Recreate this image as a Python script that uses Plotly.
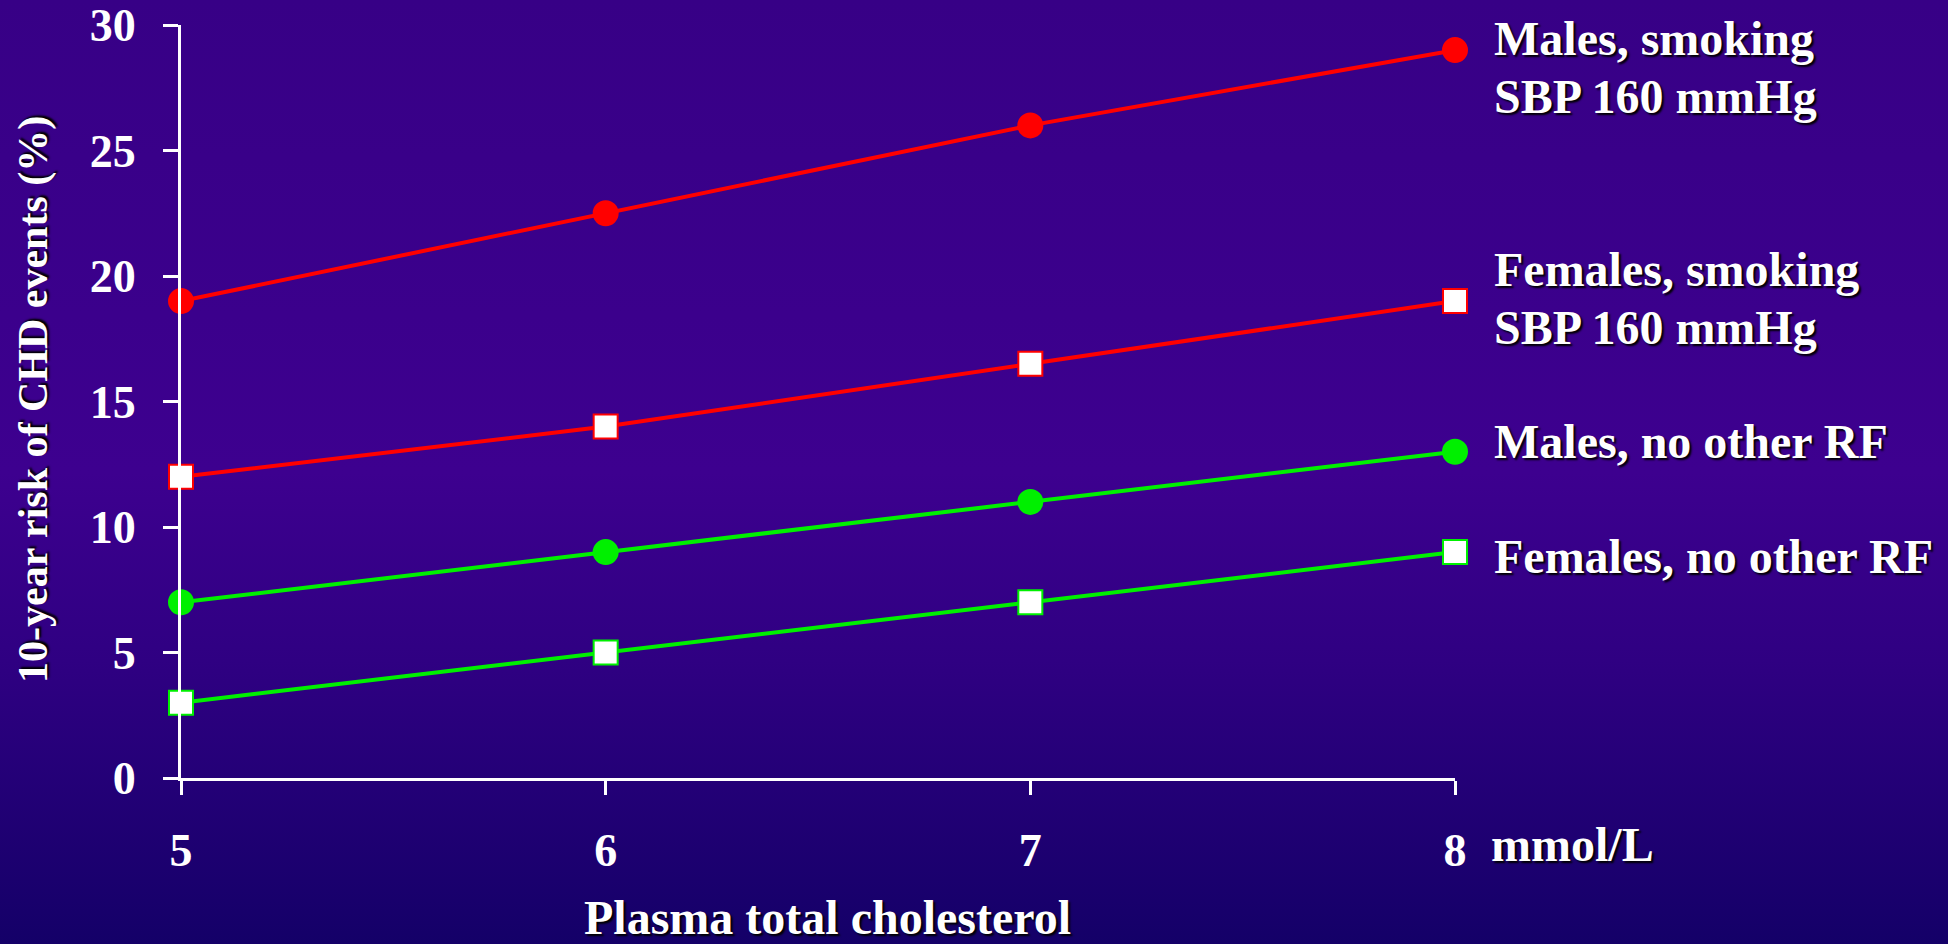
import base64
import plotly.graph_objects as go

# ---- data ----
cholesterol = [5, 6, 7, 8]
males_smoking = [19, 22.5, 26, 29]
females_smoking = [12, 14, 16.5, 19]
males_no_rf = [7, 9, 11, 13]
females_no_rf = [3, 5, 7, 9]
y_ticks = [0, 5, 10, 15, 20, 25, 30]
x_ticks = [5, 6, 7, 8]

W, H = 1948, 944
ML, MR, MT, MB = 181, 493, 25, 166
PW, PH = W - ML - MR, H - MT - MB

FONT = "Liberation Serif, Times New Roman, serif"
SHADOW = "2px 2px 2px #000000"
RED = "#ff0000"
GREEN = "#00f000"


def px_x(px):
    return (px - ML) / PW


def px_y(py):
    return 1 - (py - MT) / PH


fig = go.Figure()

series = [
    (males_smoking, RED, "circle", RED),
    (females_smoking, RED, "square", "#ffffff"),
    (males_no_rf, GREEN, "circle", GREEN),
    (females_no_rf, GREEN, "square", "#ffffff"),
]
for vals, col, sym, fill in series:
    fig.add_trace(go.Scatter(
        x=cholesterol, y=vals, mode="lines+markers",
        line=dict(color=col, width=4),
        marker=dict(symbol=sym, size=24, color=fill,
                    line=dict(color=col, width=2)),
        cliponaxis=False, showlegend=False, hoverinfo="skip",
    ))

# gradient background
svg = (
    '<svg xmlns="http://www.w3.org/2000/svg" width="100" height="100" preserveAspectRatio="none">'
    '<defs><linearGradient id="g" x1="0" y1="0" x2="0" y2="1">'
    '<stop offset="0" stop-color="#370086"/>'
    '<stop offset="0.5" stop-color="#3d008f"/>'
    '<stop offset="0.7" stop-color="#2f0082"/>'
    '<stop offset="1" stop-color="#140068"/>'
    '</linearGradient></defs>'
    '<rect width="100" height="100" fill="url(#g)"/></svg>'
)
uri = "data:image/svg+xml;base64," + base64.b64encode(svg.encode()).decode()
fig.add_layout_image(dict(
    source=uri, xref="paper", yref="paper",
    x=px_x(0), y=px_y(0), sizex=W / PW, sizey=H / PH,
    xanchor="left", yanchor="top", sizing="stretch", layer="below",
))

labels = [
    ("Males, smoking", 38.9),
    ("SBP 160 mmHg", 96.7),
    ("Females, smoking", 269.2),
    ("SBP 160 mmHg", 327.0),
    ("Males, no other RF", 441.7),
    ("Females, no other RF", 556.2),
]
for txt, cy in labels:
    fig.add_annotation(
        text=txt, xref="paper", yref="paper", x=px_x(1492), y=px_y(cy),
        xanchor="left", yanchor="middle", showarrow=False,
        font=dict(family=FONT, size=48, color="white", weight="bold", shadow=SHADOW),
    )

fig.add_annotation(
    text="mmol/L", xref="paper", yref="paper", x=px_x(1489), y=px_y(845),
    xanchor="left", yanchor="middle", showarrow=False,
    font=dict(family=FONT, size=48, color="white", weight="bold", shadow=SHADOW),
)
fig.add_annotation(
    text="Plasma total cholesterol", xref="paper", yref="paper",
    x=px_x(827), y=px_y(917), xanchor="center", yanchor="middle", showarrow=False,
    font=dict(family=FONT, size=48, color="white", weight="bold", shadow=SHADOW),
)
fig.add_annotation(
    text="10-year risk of CHD events (%)", xref="paper", yref="paper",
    x=px_x(33), y=px_y(400), xanchor="center", yanchor="middle", showarrow=False,
    textangle=-90,
    font=dict(family=FONT, size=42, color="white", weight="bold", shadow=SHADOW),
)

fig.update_layout(
    width=W, height=H,
    margin=dict(l=ML, r=MR, t=MT, b=MB, pad=0, autoexpand=False),
    paper_bgcolor="#2a007a", plot_bgcolor="rgba(0,0,0,0)",
    font=dict(family=FONT, color="white"),
    xaxis=dict(
        range=[5, 8], tickvals=x_ticks, ticktext=[str(v) for v in x_ticks],
        showgrid=False, zeroline=False, showline=True, linecolor="white", linewidth=3,
        ticks="outside", ticklen=14, tickwidth=3, tickcolor="white",
        ticklabelstandoff=16, automargin=False,
        tickfont=dict(family=FONT, size=46, color="white", weight="bold"),
    ),
    yaxis=dict(
        range=[0, 30], tickvals=y_ticks,
        showgrid=False, zeroline=False, showline=True, linecolor="white", linewidth=3,
        ticks="outside", ticklen=15, tickwidth=3, tickcolor="white",
        ticklabelstandoff=18, automargin=False,
        tickfont=dict(family=FONT, size=46, color="white", weight="bold"),
    ),
)

fig.write_html("out.html")
